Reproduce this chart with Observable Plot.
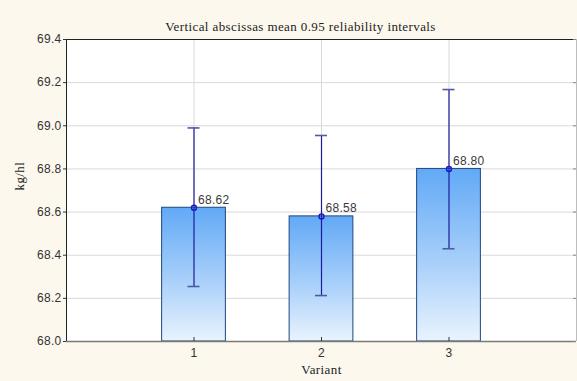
<!DOCTYPE html>
<html>
<head>
<meta charset="utf-8">
<script src="https://cdn.jsdelivr.net/npm/d3@7"></script>
<script src="https://cdn.jsdelivr.net/npm/@observablehq/plot@0.6"></script>
<style>
  html, body { margin: 0; padding: 0; background: #fcf8ee; }
  #chart { width: 577px; height: 381px; overflow: hidden; }
  svg { display: block; }
</style>
</head>
<body>
<div id="chart"></div>
<script>
const title = "Vertical abscissas mean 0.95 reliability intervals";
const xLabel = "Variant";
const yLabel = "kg/hl";
const variants = [1, 2, 3];
const means = [68.62, 68.58, 68.80];
const lower = [68.255, 68.213, 68.43];
const upper = [68.99, 68.955, 69.168];
const yTicks = [68.0, 68.2, 68.4, 68.6, 68.8, 69.0, 69.2, 69.4];
const xDomain = [0, 4];
const halfWidth = 0.25;

const data = variants.map((v, i) => ({v, mean: means[i], lo: lower[i], hi: upper[i]}));
const yMin = yTicks[0];
const yMax = yTicks[yTicks.length - 1];

const defs = () => {
  const d = d3.create("svg:defs");
  const g = d.append("linearGradient").attr("id", "barGrad").attr("x1", 0).attr("y1", 0).attr("x2", 0).attr("y2", 1);
  g.append("stop").attr("offset", "0%").attr("stop-color", "#62a9f6");
  g.append("stop").attr("offset", "55%").attr("stop-color", "#a9d0fa");
  g.append("stop").attr("offset", "100%").attr("stop-color", "#e9f3fd");
  return d.node();
};

const serif = "Liberation Serif, Times New Roman, serif";
const sans = "Liberation Sans, Arial, sans-serif";

const plot = Plot.plot({
  width: 577,
  height: 381,
  marginLeft: 66,
  marginRight: 1,
  marginTop: 39,
  marginBottom: 40,
  style: {background: "#fcf8ee", fontFamily: sans, fontSize: "12px", color: "#333", letterSpacing: "0.3px"},
  x: {type: "linear", domain: xDomain},
  y: {type: "linear", domain: [yMin, yMax]},
  marks: [
    defs,
    Plot.frame({fill: "white", stroke: "none"}),
    Plot.gridY(yTicks, {stroke: "#d9d9d9", strokeOpacity: 1}),
    Plot.gridX(variants, {stroke: "#d9d9d9", strokeOpacity: 1}),
    Plot.rect(data, {x1: d => d.v - halfWidth, x2: d => d.v + halfWidth, y1: yMin, y2: "mean", fill: "url(#barGrad)", stroke: "#1d4680", strokeWidth: 1}),
    Plot.ruleX(data, {x: "v", y1: "lo", y2: "hi", stroke: "#1c1c9a", strokeWidth: 1.2}),
    Plot.ruleY(data, {y: "hi", x1: "v", x2: "v", insetLeft: -6, insetRight: -6, stroke: "#4d5aa6", strokeWidth: 1.6}),
    Plot.ruleY(data, {y: "lo", x1: "v", x2: "v", insetLeft: -6, insetRight: -6, stroke: "#4d5aa6", strokeWidth: 1.6}),
    Plot.dot(data, {x: "v", y: "mean", r: 2.5, stroke: "#1818c8", fill: "none", strokeWidth: 1.4}),
    Plot.text(data, {x: "v", y: "mean", text: d => d.mean.toFixed(2), textAnchor: "start", dx: 4, dy: -8, fill: "#3a3a3a", fontSize: 12}),
    // frame edges
    Plot.ruleY([yMax], {stroke: "#222", strokeWidth: 1}),
    Plot.ruleX([xDomain[0]], {stroke: "#222", strokeWidth: 1}),
    Plot.ruleX([xDomain[1]], {stroke: "#bdbdbd", strokeWidth: 1}),
    Plot.ruleY([yMin], {stroke: "#7a7a7a", strokeWidth: 1.6}),
    // small inner ticks
    Plot.ruleX(variants, {x: d => d, y1: yMin, y2: yMin, insetTop: -4, stroke: "#333"}),
    Plot.ruleY(yTicks, {y: d => d, x1: xDomain[1], x2: xDomain[1], insetLeft: -3, stroke: "#888"}),
    Plot.axisY(yTicks, {tickSize: 3, tickPadding: 2, tickFormat: d3.format(".1f"), label: null, fill: "#333", stroke: "#333"}),
    Plot.axisX(variants, {tickSize: 0, tickPadding: 7, tickFormat: d => String(d), label: null, fill: "#333"}),
    Plot.text([title], {frameAnchor: "top", dx: -21, dy: -18, fontFamily: serif, fontSize: 13, fill: "#222"}),
    Plot.text([xLabel], {frameAnchor: "bottom", dy: 32, fontFamily: serif, fontSize: 13, fill: "#222"}),
    Plot.text([yLabel], {frameAnchor: "left", dx: -47, rotate: -90, fontFamily: serif, fontSize: 13, fill: "#222"})
  ]
});
d3.select(plot).selectAll('g[font-family^="Liberation Serif"]').style("letter-spacing", "0.4px");
document.getElementById("chart").appendChild(plot);
</script>
</body>
</html>
